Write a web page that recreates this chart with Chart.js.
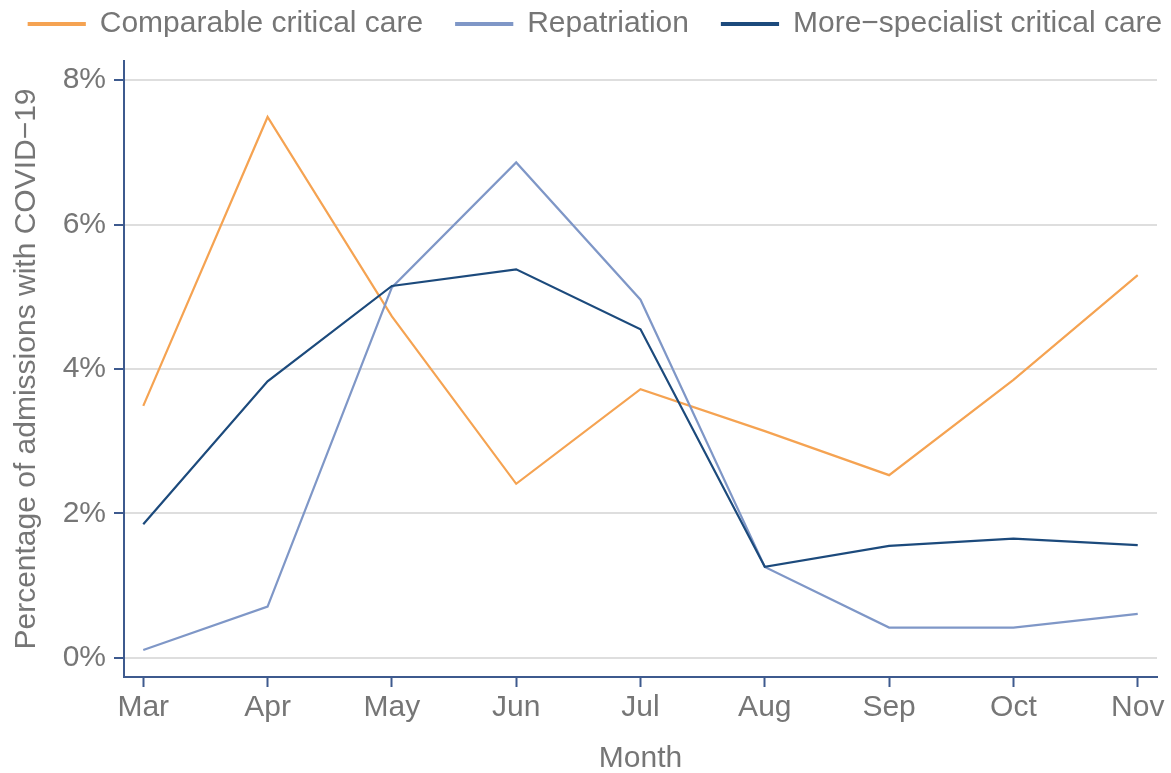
<!DOCTYPE html>
<html>
<head>
<meta charset="utf-8">
<script src="https://cdn.jsdelivr.net/npm/chart.js@4"></script>
<style>
  html, body { margin: 0; padding: 0; background: #fff; }
  #wrap { width: 1171px; height: 773px; }
</style>
</head>
<body>
<div id="wrap"><canvas id="myChart" width="1171" height="773"></canvas></div>
<script>
const months = ['Mar', 'Apr', 'May', 'Jun', 'Jul', 'Aug', 'Sep', 'Oct', 'Nov'];
const comparable = [3.49, 7.49, 4.73, 2.41, 3.72, 3.14, 2.53, 3.85, 5.30];
const repatriation = [0.11, 0.71, 5.13, 6.86, 4.96, 1.26, 0.42, 0.42, 0.61];
const specialist = [1.85, 3.83, 5.15, 5.38, 4.55, 1.26, 1.55, 1.65, 1.56];
const yTicks = [0, 2, 4, 6, 8];

const textGrey = '#767676';
const axisBlue = '#3e5a8e';
const fontFam = '"Liberation Sans", Arial, sans-serif';
const fontSize = 30;

function toPoints(arr) {
  return arr.map((v, i) => ({ x: i, y: v }));
}

function makeSet(label, arr, color, order) {
  return {
    label: label,
    data: toPoints(arr),
    borderColor: color,
    backgroundColor: color,
    borderWidth: 2.2,
    pointRadius: 0,
    tension: 0,
    order: order,
  };
}

// legend: keep all three items on one row, force the box height so the plot
// top lands where it should, and nudge the row into place
const legendFix = {
  id: 'legendFix',
  beforeInit(chart) {
    const lg = chart.legend;
    const fit = lg.fit;
    lg.fit = function () {
      const mw = this.maxWidth;
      this.maxWidth = 1600;
      fit.bind(lg)();
      this.maxWidth = mw;
      this.width = mw;
      this.height = 61;
    };
    const draw = lg.draw;
    lg.draw = function () {
      const ctx = chart.ctx;
      const r = this.right;
      this.right = 1300;
      ctx.save();
      ctx.translate(-54.5, -24);
      draw.bind(lg)();
      ctx.restore();
      this.right = r;
    };
  },
};

new Chart(document.getElementById('myChart'), {
  type: 'line',
  data: {
    datasets: [
      makeSet('Comparable critical care', comparable, '#f5a352', 3),
      makeSet('Repatriation', repatriation, '#7f97c7', 2),
      makeSet('More\u2212specialist critical care', specialist, '#1c4a7c', 1),
    ],
  },
  options: {
    responsive: false,
    animation: false,
    layout: { padding: { left: 0, right: 14, top: 0, bottom: 0 } },
    plugins: {
      tooltip: { enabled: false },
      legend: {
        display: true,
        position: 'top',
        align: 'center',
        labels: {
          color: textGrey,
          font: { family: fontFam, size: fontSize },
          boxWidth: 56,
          boxHeight: 2,
          padding: 33,
          sort: (a, b) => a.datasetIndex - b.datasetIndex,
        },
      },
    },
    scales: {
      x: {
        type: 'linear',
        min: -0.155,
        max: 8.155,
        border: { display: true, color: axisBlue, width: 2 },
        grid: { drawOnChartArea: false, drawTicks: true, tickLength: 10, tickColor: axisBlue, tickWidth: 2 },
        ticks: {
          stepSize: 1,
          includeBounds: false,
          color: textGrey,
          font: { family: fontFam, size: fontSize },
          padding: 3,
          maxRotation: 0,
          callback: (v) => months[v] ?? '',
        },
        title: {
          display: true,
          text: 'Month',
          color: textGrey,
          font: { family: fontFam, size: fontSize },
          padding: { top: 7, bottom: -4 },
        },
        afterFit(scale) { scale.height = 96; },
      },
      y: {
        type: 'linear',
        min: -0.265,
        max: 8.265,
        border: { display: true, color: axisBlue, width: 2 },
        grid: { color: '#dedede', lineWidth: 2, drawTicks: true, tickLength: 10, tickColor: axisBlue, tickWidth: 2 },
        afterBuildTicks(scale) { scale.ticks = yTicks.map((v) => ({ value: v })); },
        ticks: {
          color: textGrey,
          font: { family: fontFam, size: fontSize },
          padding: 8,
          callback: (v) => v + '%',
        },
        title: {
          display: true,
          text: 'Percentage of admissions with COVID\u221219',
          color: textGrey,
          font: { family: fontFam, size: fontSize },
          padding: { top: 9, bottom: 0 },
        },
        afterFit(scale) { scale.width = 124; },
      },
    },
  },
  plugins: [legendFix],
});
</script>
</body>
</html>
